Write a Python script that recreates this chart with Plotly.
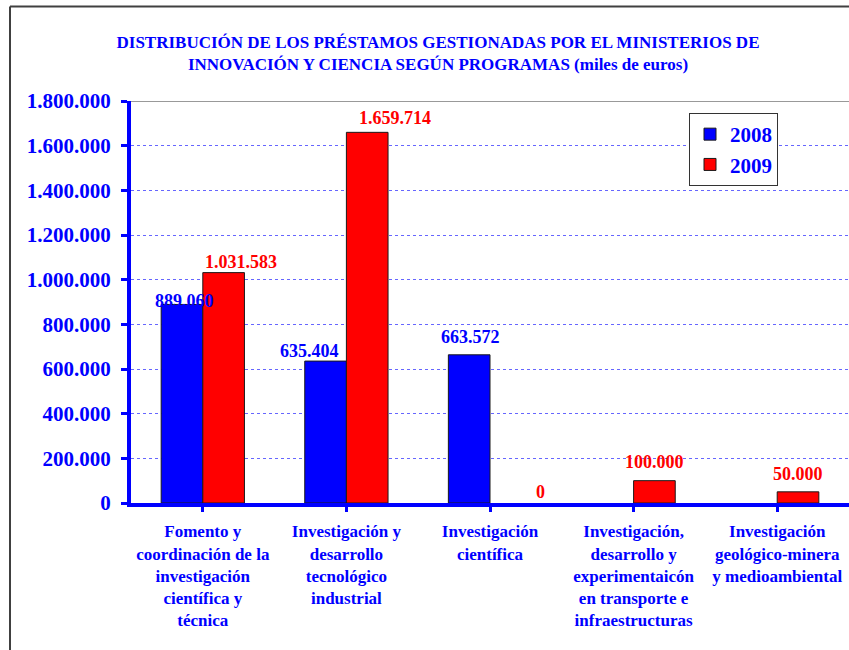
import plotly.graph_objects as go

categories = [
    "Fomento y<br>coordinación de la<br>investigación<br>científica y<br>técnica",
    "Investigación y<br>desarrollo<br>tecnológico<br>industrial",
    "Investigación<br>científica",
    "Investigación,<br>desarrollo y<br>experimentaicón<br>en transporte e<br>infraestructuras",
    "Investigación<br>geológico-minera<br>y medioambiental",
]
values_2008 = [889060, 635404, 663572, None, None]
values_2009 = [1031583, 1659714, 0, 100000, 50000]
series_names = ["2008", "2009"]
y_tick_values = [0, 200000, 400000, 600000, 800000, 1000000, 1200000, 1400000, 1600000, 1800000]
y_tick_labels = ["0", "200.000", "400.000", "600.000", "800.000", "1.000.000",
                 "1.200.000", "1.400.000", "1.600.000", "1.800.000"]
title_text = ("DISTRIBUCIÓN DE LOS PRÉSTAMOS GESTIONADAS POR EL MINISTERIOS DE<br>"
              "INNOVACIÓN Y CIENCIA SEGÚN PROGRAMAS (miles de euros)")

# style: label pixel offsets (dx, dy) per bar
label_offsets_2008 = [(3, 2), (-16, 9), (1, 17), None, None]
label_offsets_2009 = [(17, 10), (28, 13), (30, 10), (0, 18), (0, 17)]

BLUE = "#0000FF"
RED = "#FF0000"
FONT = "Liberation Serif"

L, T, B_Y = 131, 101, 503   # plot-area left, top, bottom in px
W, H = 849, 650
PLOT_W = W - L
PLOT_H = B_Y - T

def fmt(v):
    return f"{v:,}".replace(",", ".")

def outline_widths(vals):
    return [0 if (v is None or v == 0) else 1 for v in vals]

x_idx = list(range(len(categories)))

fig = go.Figure()
fig.add_trace(go.Bar(x=x_idx, y=values_2008, name=series_names[0],
                     marker=dict(color=BLUE, line=dict(color="#1a1a1a",
                                                       width=outline_widths(values_2008)))))
fig.add_trace(go.Bar(x=x_idx, y=values_2009, name=series_names[1],
                     marker=dict(color=RED, line=dict(color="#1a1a1a",
                                                      width=outline_widths(values_2009)))))

bar_half = 0.145
annotations = []
for vals, offs, col, sgn in [(values_2008, label_offsets_2008, BLUE, -1),
                             (values_2009, label_offsets_2009, RED, 1)]:
    for i, (v, o) in enumerate(zip(vals, offs)):
        if v is None:
            continue
        annotations.append(dict(
            x=i + sgn * bar_half, y=v, xref="x", yref="y", text=fmt(v),
            showarrow=False, xanchor="center", yanchor="middle",
            xshift=o[0], yshift=o[1] + 1,
            font=dict(family=FONT, size=18, color=col, weight="bold")))

fig.update_layout(
    width=W, height=H,
    margin=dict(l=L, r=0, t=T, b=H - B_Y, autoexpand=False),
    paper_bgcolor="white", plot_bgcolor="white",
    barmode="group", bargap=0.42, bargroupgap=0,
    title=dict(text=title_text, x=438 / W, xanchor="center", xref="container",
               y=1 - 47.5 / H, yanchor="middle", yref="container",
               font=dict(family=FONT, size=17, color=BLUE, weight="bold")),
    legend=dict(x=(689 - L) / PLOT_W, y=(B_Y - 113) / PLOT_H, xanchor="left", yanchor="top",
                bgcolor="white", bordercolor="#333333", borderwidth=1,
                font=dict(family=FONT, size=21, color=BLUE, weight="bold"),
                itemwidth=30, itemclick=False),
    annotations=annotations,
    showlegend=True,
)
fig.update_xaxes(
    tickmode="array", tickvals=x_idx, ticktext=categories, automargin=False,
    range=[-0.5, 4.5], showline=True, linecolor=BLUE, linewidth=4,
    ticks="outside", ticklen=5, tickwidth=3, tickcolor=BLUE, ticklabelstandoff=5,
    showgrid=False, zeroline=False,
    tickfont=dict(family=FONT, size=17, color=BLUE, weight="bold"),
)
fig.update_yaxes(
    range=[0, 1800000], tickmode="array", tickvals=y_tick_values, ticktext=y_tick_labels,
    automargin=False, showline=True, linecolor=BLUE, linewidth=4,
    ticks="outside", ticklen=6, tickwidth=3, tickcolor=BLUE, ticklabelstandoff=6,
    showgrid=True, gridcolor="#6666ff", griddash="dot", gridwidth=1, zeroline=False,
    tickfont=dict(family=FONT, size=21, color=BLUE, weight="bold"),
)
# plot area top border and outer chart border
fig.add_shape(type="line", xref="paper", yref="y", x0=0, x1=1, y0=1800000, y1=1800000,
              line=dict(color="#999999", width=2))
bx = (10 - L) / PLOT_W
by = (B_Y - 6.5) / PLOT_H
fig.add_shape(type="line", xref="paper", yref="paper", x0=bx, x1=bx,
              y0=-0.5, y1=by, line=dict(color="#404040", width=2))
fig.add_shape(type="line", xref="paper", yref="paper", x0=bx, x1=1.05,
              y0=by, y1=by, line=dict(color="#404040", width=2))

fig.write_html("out.html", config={"displayModeBar": False},
               post_script="document.body.style.margin='0';document.body.style.overflow='hidden';")
